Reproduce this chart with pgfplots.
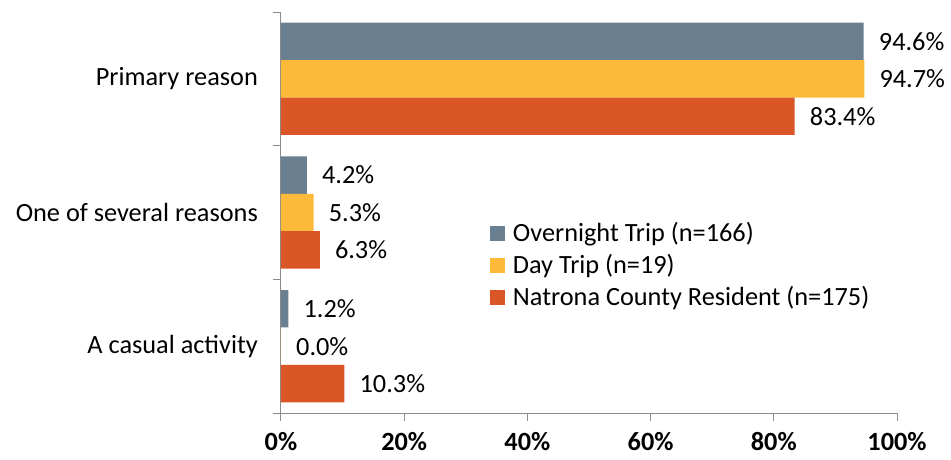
\documentclass[border=0pt]{standalone}
\usepackage{pgfplots}
\pgfplotsset{compat=1.18}
\usepackage{fontspec}
\setmainfont{Carlito}
\definecolor{cgray}{HTML}{6A7F90}
\definecolor{cyel}{HTML}{FDBA3A}
\definecolor{corg}{HTML}{DA5627}
\definecolor{caxis}{HTML}{8C8C8C}
\newcommand{\bigf}{\fontsize{26.3}{31}\selectfont}
\begin{document}
\begin{tikzpicture}
\path[use as bounding box] (-281pt,-46pt) rectangle (670pt,413pt);
\begin{axis}[
  at={(0pt,0pt)}, anchor=south west,
  scale only axis, width=616pt, height=401pt,
  /pgf/number format/assume math mode=true,
  xbar, bar width=0.28,
  xmin=0, xmax=100,
  ymin=-0.5, ymax=2.5, y dir=reverse,
  axis lines*=left,
  axis line style={caxis, line width=1pt},
  tick align=outside,
  xtick={0,20,40,60,80,100},
  xticklabels={\textbf{0\%},\textbf{20\%},\textbf{40\%},\textbf{60\%},\textbf{80\%},\textbf{100\%}},
  xticklabel style={font=\bigf, yshift=-8pt},
  major tick length=8pt,
  x tick style={caxis, line width=1pt},
  ytick={0,1,2},
  yticklabels={Primary reason, One of several reasons, A casual activity},
  major y tick style={draw=none},
  minor ytick={-0.5,0.5,1.5,2.5},
  minor y tick style={caxis, line width=1pt},
  minor tick length=8pt,
  yticklabel style={font=\bigf, inner sep=0pt, xshift=-15pt},
  point meta=x,
  nodes near coords={\pgfmathprintnumber[fixed,fixed zerofill,precision=1,assume math mode=true]{\pgfplotspointmeta}\%},
  nodes near coords style={font=\bigf, anchor=west, inner sep=0pt, xshift=15pt, text=black},
  legend style={at={(rel axis cs:0.334,0.478)}, anchor=north west, draw=none, fill=none,
    font=\bigf, row sep=8pt, nodes={inner sep=0pt, text height=18pt, text depth=6pt}},
  legend cell align=left,
]
\addplot[draw=none, fill=cgray, bar shift=-0.28,
  legend image code/.code={\fill[cgray] (0pt,-5pt) rectangle (15pt,10pt);\path (23pt,0pt);}]
  coordinates {(94.6,0) (4.2,1) (1.2,2)};
\addplot[draw=none, fill=cyel, bar shift=0,
  legend image code/.code={\fill[cyel] (0pt,-5pt) rectangle (15pt,10pt);\path (23pt,0pt);}]
  coordinates {(94.7,0) (5.3,1) (0.0,2)};
\addplot[draw=none, fill=corg, bar shift=0.28,
  legend image code/.code={\fill[corg] (0pt,-5pt) rectangle (15pt,10pt);\path (23pt,0pt);}]
  coordinates {(83.4,0) (6.3,1) (10.3,2)};
\legend{Overnight Trip (n=166), Day Trip (n=19), Natrona County Resident (n=175)}
\end{axis}
\end{tikzpicture}
\end{document}
